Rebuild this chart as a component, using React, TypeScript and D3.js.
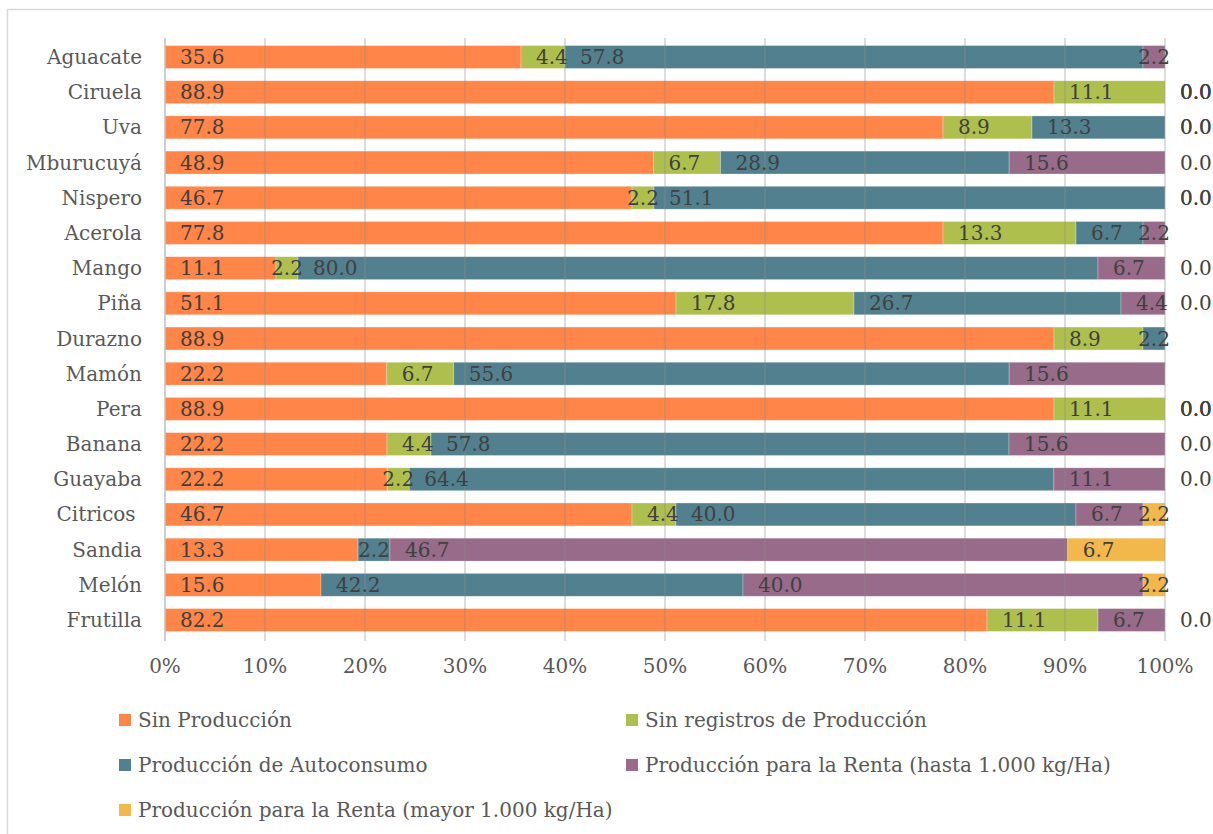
import React from 'react';
import * as d3 from 'd3';

// categorias (de arriba hacia abajo)
const categories = [
  'Aguacate', 'Ciruela', 'Uva', 'Mburucuyá', 'Nispero', 'Acerola', 'Mango', 'Piña',
  'Durazno', 'Mamón', 'Pera', 'Banana', 'Guayaba', 'Citricos ', 'Sandia', 'Melón', 'Frutilla',
];

const seriesNames = [
  'Sin Producción',
  'Sin registros de Producción',
  'Producción de Autoconsumo',
  'Producción para la Renta (hasta 1.000 kg/Ha)',
  'Producción para la Renta (mayor 1.000 kg/Ha)',
];

const seriesColors = ['#FF8548', '#AFBF4E', '#52808F', '#976B89', '#F2B84B'];

// null = sin dato (sin etiqueta)
const sinProduccion = [35.6, 88.9, 77.8, 48.9, 46.7, 77.8, 11.1, 51.1, 88.9, 22.2, 88.9, 22.2, 22.2, 46.7, 13.3, 15.6, 82.2];
const sinRegistros = [4.4, 11.1, 8.9, 6.7, 2.2, 13.3, 2.2, 17.8, 8.9, 6.7, 11.1, 4.4, 2.2, 4.4, null, null, 11.1];
const autoconsumo = [57.8, 0, 13.3, 28.9, 51.1, 6.7, 80.0, 26.7, 2.2, 55.6, 0, 57.8, 64.4, 40.0, 2.2, 42.2, null];
const rentaHasta = [2.2, 0, 0, 15.6, 0, 2.2, 6.7, 4.4, null, 15.6, 0, 15.6, 11.1, 6.7, 46.7, 40.0, 6.7];
const rentaMayor = [null, 0, 0, 0, 0, null, 0, 0, null, null, 0, 0, 0, 2.2, 6.7, 2.2, 0];

const seriesValues = [sinProduccion, sinRegistros, autoconsumo, rentaHasta, rentaMayor];

const ticks = [0, 0.1, 0.2, 0.3, 0.4, 0.5, 0.6, 0.7, 0.8, 0.9, 1];

const W = 1213;
const H = 834;
const FONT = "'DejaVu Serif', serif";
const FS = 20;

const textWidth = (s: string) =>
  s.split('').reduce((acc, c) => acc + (c === '.' ? 0.318 : 0.636), 0) * FS;

const App: React.FC = () => {
  const x = d3.scaleLinear().domain([0, 1]).range([165, 1165]);
  const y = d3.scaleBand<string>().domain(categories).range([39.4, 637.6]).paddingInner(0.35).paddingOuter(0.175);

  const rows = categories.map((cat, i) => {
    const vals = seriesValues.map((s) => s[i]);
    const total = d3.sum(vals, (v) => v ?? 0);
    let acc = 0;
    const segs = vals.map((v, k) => {
      const start = acc / total;
      acc += v ?? 0;
      return { k, v, x0: start, x1: acc / total };
    });
    return { cat, segs };
  });

  const plotTop = 38;
  const plotBottom = 641;

  return (
    <div style={{ position: 'absolute', left: 0, top: 0 }}>
      <svg width={W} height={H} style={{ display: 'block' }} fontFamily={FONT}>
        <rect x={0} y={0} width={W} height={H} fill="#fff" />
        <rect x={7.5} y={9.5} width={W + 20} height={H + 20} fill="none" stroke="#d9d9d9" strokeWidth={1.5} />

        {/* barras */}
        {rows.map((r) =>
          r.segs
            .filter((s) => s.v != null && s.v > 0)
            .map((s) => (
              <rect
                key={`${r.cat}-${s.k}`}
                x={x(s.x0)}
                y={y(r.cat)!}
                width={x(s.x1) - x(s.x0)}
                height={y.bandwidth()}
                fill={seriesColors[s.k]}
                stroke="#fff"
                strokeOpacity={0.35}
                strokeWidth={0.75}
              />
            ))
        )}

        {/* lineas de cuadricula (por encima de las barras) */}
        {ticks.map((t) => (
          <line
            key={`g-${t}`}
            x1={x(t)}
            x2={x(t)}
            y1={plotTop}
            y2={plotBottom}
            stroke={t === 0 ? '#bfbfbf' : '#8c8c8c'}
            strokeOpacity={t === 0 ? 1 : 0.3}
            strokeWidth={t === 0 ? 1.5 : 2}
          />
        ))}

        {/* etiquetas de categorias */}
        {categories.map((c) => (
          <text
            key={`c-${c}`}
            x={142}
            y={y(c)! + y.bandwidth() / 2 + 7}
            textAnchor="end"
            fontSize={FS}
            fill="#595959"
            style={{ whiteSpace: 'pre' }}
          >
            {c}
          </text>
        ))}

        {/* etiquetas de datos */}
        {rows.map((r) =>
          r.segs
            .filter((s) => s.v != null)
            .map((s) => {
              const label = d3.format('.1f')(s.v as number);
              const sx0 = x(s.x0);
              const sw = x(s.x1) - sx0;
              const tw = textWidth(label);
              const lx = sw >= tw + 8 || sw === 0 ? sx0 + 15 : sx0 + (sw - tw) / 2;
              return (
                <text
                  key={`l-${r.cat}-${s.k}`}
                  x={lx}
                  y={y(r.cat)! + y.bandwidth() / 2 + 7}
                  fontSize={FS}
                  fill="#404040"
                >
                  {label}
                </text>
              );
            })
        )}

        {/* eje x */}
        {ticks.map((t) => (
          <text key={`t-${t}`} x={x(t)} y={673} textAnchor="middle" fontSize={FS} fill="#595959">
            {d3.format('.0%')(t)}
          </text>
        ))}

        {/* leyenda */}
        {seriesNames.map((n, i) => {
          const col = i % 2;
          const row = Math.floor(i / 2);
          const lx = col === 0 ? 119 : 626;
          const ly = 720 + row * 45;
          return (
            <g key={`leg-${n}`}>
              <rect x={lx} y={ly - 6} width={12} height={12} fill={seriesColors[i]} />
              <text x={lx + 19} y={ly + 7} fontSize={FS} fill="#595959">
                {n}
              </text>
            </g>
          );
        })}
      </svg>
    </div>
  );
};

export default App;
